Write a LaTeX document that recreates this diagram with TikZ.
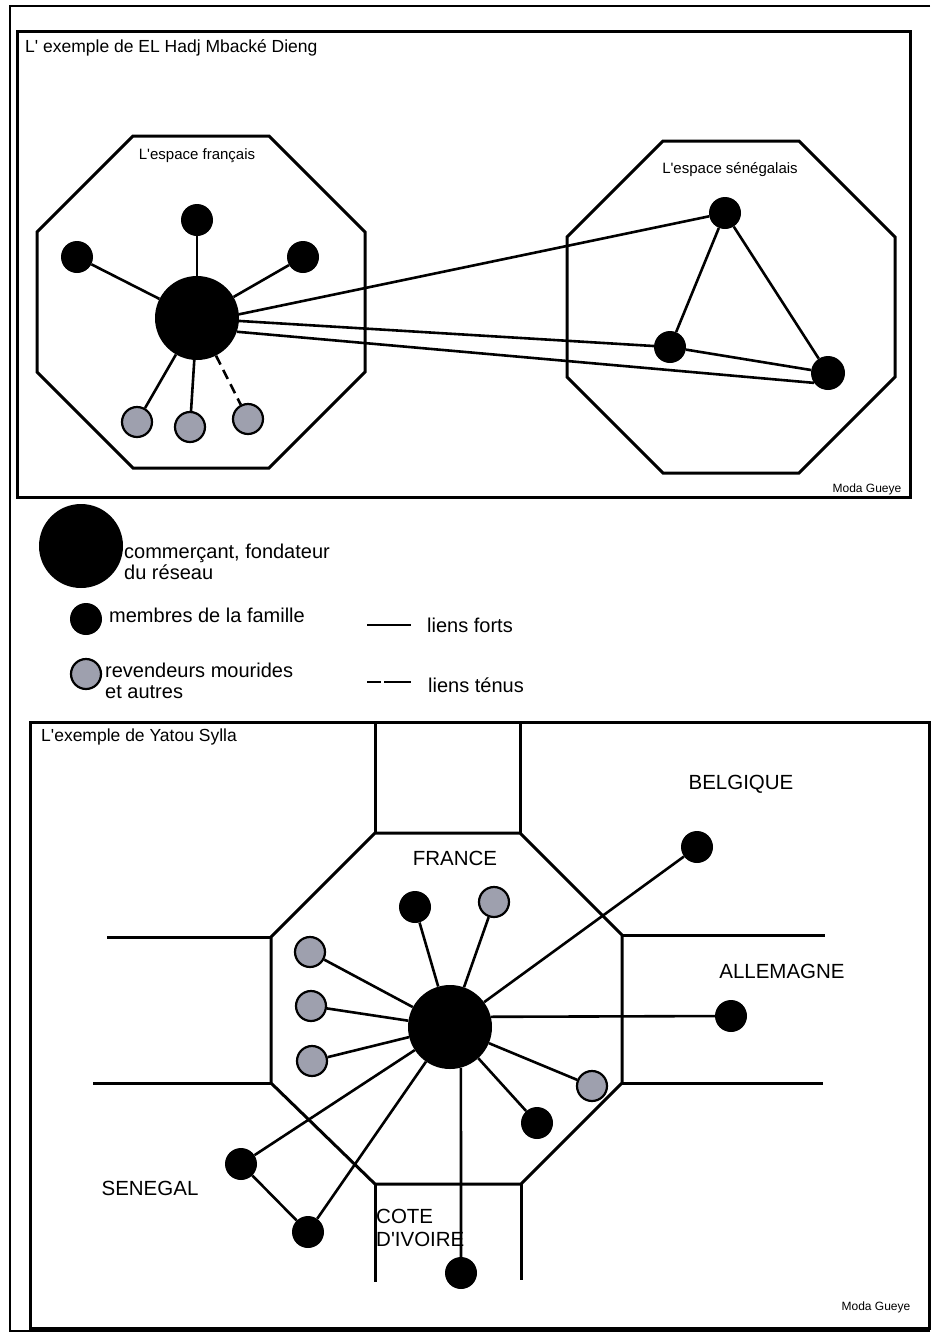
\documentclass[tikz,border=0pt]{standalone}
\usepackage{fontspec}
\setmainfont{Liberation Sans}[Ligatures=TeXOff]
\usetikzlibrary{positioning}
\definecolor{revgray}{RGB}{158,160,174}
\tikzset{
  founder/.style={circle,fill=black,minimum size=84pt,inner sep=0pt},
  member/.style={circle,fill=black,minimum size=32pt,inner sep=0pt},
  seller/.style={circle,draw=black,line width=2.2pt,fill=revgray,minimum size=30pt,inner sep=0pt},
  strong/.style={line width=2.6pt},
  weak/.style={line width=2.6pt,dash pattern=on 10pt off 6pt},
  zone/.style={line width=3pt,line join=miter},
  frame/.style={line width=2.5pt},
  lbl/.style={font=\fontsize{20}{21}\selectfont,inner sep=0pt},
  country/.style={font=\fontsize{20.5}{23}\selectfont,inner sep=0pt},
  title/.style={font=\fontsize{17.5}{20}\selectfont,inner sep=0pt,anchor=west},
  zonelbl/.style={font=\fontsize{15}{17}\selectfont,inner sep=0pt},
  sign/.style={font=\fontsize{12}{14}\selectfont,inner sep=0pt}
}
\begin{document}
\begin{tikzpicture}[x=1pt,y=-1pt]
\useasboundingbox (0,0) rectangle (930,1334);
\def\octagon{(-68,-166) -- (68,-166) -- (164,-70) -- (164,70) -- (68,166) -- (-68,166) -- (-164,70) -- (-164,-70) -- cycle}
\draw[frame] (930,6) -- (10,6) -- (10,1331) -- (930,1331);
\draw[zone] (17,31) rectangle (910,497);
\draw[zone] (30,722) rectangle (929,1328);
\node[title] (t1) at (25,48) {L' exemple de EL Hadj Mbacké Dieng};
\node[sign] (sig1) at (867,489) {Moda Gueye};
\draw[zone,shift={(201,302)}] \octagon;
\draw[zone,shift={(731,307)}] \octagon;
\node[zonelbl] (lfr) at (197,156) {L'espace français};
\node[zonelbl] (lsn) at (730,170) {L'espace sénégalais};
\node[founder] (fr) at (197,318) {};
\node[member] (frt) at (197,220) {};
\node[member] (frl) at (77,257) {};
\node[member] (frr) at (303,257) {};
\node[seller] (frs1) at (137,422) {};
\node[seller] (frs2) at (190,427) {};
\node[seller] (frs3) at (248,419) {};
\node[member] (snA) at (725,213) {};
\node[member] (snB) at (670,347) {};
\node[member,minimum size=34pt] (snC) at (828,373) {};
\draw[strong] (fr) -- (frt);
\draw[strong] (fr) -- (frl);
\draw[strong] (fr) -- (frr);
\draw[strong] (fr) -- (frs1);
\draw[strong] (fr) -- (frs2);
\draw[weak] (fr) -- (frs3);
\draw[strong] (fr.5) -- (snA);
\draw[strong] (fr.-4) -- (snB);
\draw[strong] (fr.-19) -- (snC.215);
\draw[strong] (snA) -- (snB);
\draw[strong] (snA) -- (snC);
\draw[strong] (snB) -- (snC.170);
\node[founder] (lgf) at (81,546) {};
\node[member] (lgm) at (86,619) {};
\node[seller] (lgs) at (86,674) {};
\node[lbl,anchor=west,align=left] (tf) at (124,562) {commerçant, fondateur\\du réseau};
\node[lbl,anchor=west] (tm) at (109,615) {membres de la famille};
\node[lbl,anchor=west,align=left] (ts) at (105,681) {revendeurs mourides\\et autres};
\node[lbl,anchor=west] (tlf) at (427,625) {liens forts};
\node[lbl,anchor=west] (tlt) at (428,685) {liens ténus};
\coordinate (lf1) at (367,625);
\coordinate (lf2) at (411,625);
\coordinate (lt1) at (367,682);
\coordinate (lt2) at (411,682);
\draw[strong] (lf1) -- (lf2);
\draw[strong,dash pattern=on 14pt off 3pt on 27pt] (lt1) -- (lt2);
\node[title] (t2) at (41,737) {L'exemple de Yatou Sylla};
\node[sign] (sig2) at (876,1307) {Moda Gueye};
\draw[zone] (375,833) -- (520,833) -- (622,935) -- (622,1083) -- (521,1184) -- (375,1184) -- (271,1083) -- (271,937) -- cycle;
\draw[zone] (375,722) -- (375,833);
\draw[zone] (520,722) -- (520,833);
\draw[zone] (107,937) -- (271,937);
\draw[zone] (93,1083) -- (271,1083);
\draw[zone] (622,935) -- (825,935);
\draw[zone] (622,1083) -- (823,1083);
\draw[zone] (375,1184) -- (375,1282);
\draw[zone] (521,1184) -- (521,1280);
\node[country] (lbe) at (741,784) {BELGIQUE};
\node[country] (lfrance) at (455,858) {FRANCE};
\node[country] (lal) at (782,971) {ALLEMAGNE};
\node[country] (lse) at (150,1188) {SENEGAL};
\node[country,anchor=west,align=left] (lci) at (376,1228) {COTE\\D'IVOIRE};
\node[founder] (ys) at (450,1027) {};
\node[seller] (g1) at (310,952) {};
\node[seller] (g2) at (311,1006) {};
\node[seller] (g3) at (312,1061) {};
\node[member] (m1) at (415,907) {};
\node[seller] (g4) at (494,902) {};
\node[member] (be) at (697,847) {};
\node[member] (al) at (731,1016) {};
\node[seller] (g5) at (592,1086) {};
\node[member] (m2) at (537,1123) {};
\node[member] (se1) at (241,1164) {};
\node[member] (se2) at (308,1232) {};
\node[member] (ci) at (461,1273) {};
\foreach \n in {g1,g2,g3,m1,g4,be,g5,m2,se1,se2}
  \draw[strong] (ys) -- (\n);
\draw[strong] (ys.14) -- (al);
\draw[strong] (ys.-75) -- (ci);
\draw[strong] (se1) -- (se2);
\end{tikzpicture}
\end{document}
